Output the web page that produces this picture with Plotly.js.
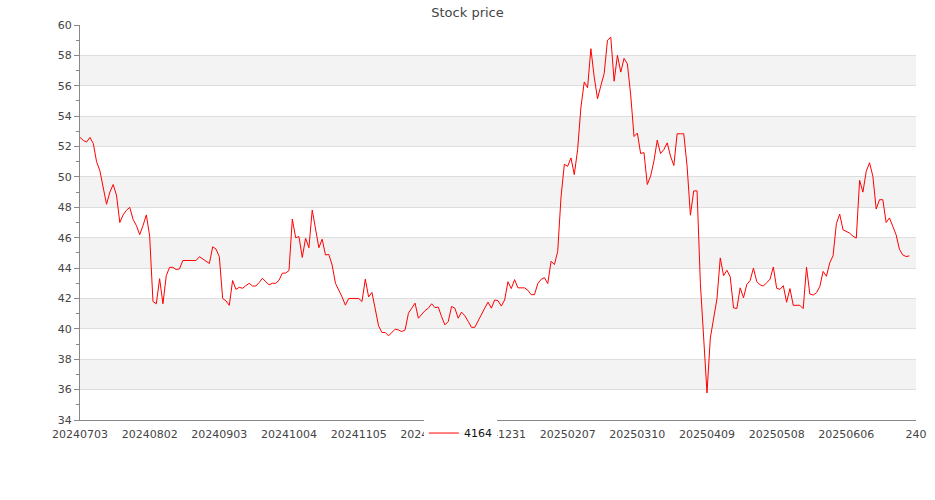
<!DOCTYPE html>
<html>
<head>
<meta charset="utf-8">
<script src="https://cdn.plot.ly/plotly-3.0.1.min.js"></script>
<style>
html, body { margin: 0; padding: 0; background: #ffffff; }
#chart { width: 935px; height: 500px; }
</style>
</head>
<body>
<div id="chart"></div>
<script>
// ---- data ----
const seriesName = "4164";
const prices = [
  52.6, 52.4, 52.3, 52.6, 52.2, 51.0, 50.4, 49.3, 48.2, 49.0,
  49.5, 48.8, 47.0, 47.5, 47.8, 48.0, 47.2, 46.8, 46.2, 46.8,
  47.5, 46.1, 41.8, 41.65, 43.3, 41.65, 43.5, 44.05, 44.05, 43.9,
  43.95, 44.5, 44.5, 44.5, 44.5, 44.5, 44.75, 44.6, 44.4, 44.3,
  45.4, 45.25, 44.75, 42.0, 41.84, 41.55, 43.18, 42.6, 42.73, 42.67,
  42.84, 43.0, 42.82, 42.82, 43.05, 43.33, 43.1, 42.9, 43.0, 43.0,
  43.2, 43.67, 43.67, 43.84, 47.23, 46.0, 46.07, 44.7, 45.96, 45.34,
  47.82, 46.6, 45.34, 45.9, 44.86, 44.9, 44.2, 43.0, 42.6, 42.1,
  41.56, 42.0, 42.0, 42.0, 42.0, 41.8, 43.27, 42.1, 42.4, 41.3,
  40.2, 39.76, 39.76, 39.54, 39.78, 39.98, 39.93, 39.82, 39.93, 41.03,
  41.36, 41.69, 40.7, 40.99, 41.2, 41.36, 41.65, 41.4, 41.43, 40.8,
  40.26, 40.48, 41.47, 41.36, 40.7, 41.1, 40.86, 40.5, 40.1, 40.1,
  40.55, 40.92, 41.36, 41.76, 41.36, 41.9, 41.85, 41.5, 41.9, 43.1,
  42.65, 43.24, 42.7, 42.7, 42.7, 42.54, 42.25, 42.25, 42.98, 43.26,
  43.37, 42.98, 44.45, 44.23, 45.1, 48.68, 50.83, 50.7, 51.25, 50.15,
  51.8, 54.6, 56.25, 55.87, 58.44, 56.57, 55.15, 56.0, 56.8, 59.0,
  59.2, 56.3, 58.0, 56.9, 57.8, 57.44, 55.4, 52.66, 52.89, 51.54,
  51.6, 49.5, 50.05, 51.04, 52.42, 51.54, 51.8, 52.24, 51.37, 50.75,
  52.84, 52.84, 52.84, 50.7, 47.48, 49.08, 49.08, 43.0, 39.5, 35.78,
  39.4, 40.83, 41.97, 44.67, 43.5, 43.86, 43.42, 41.38, 41.34, 42.7,
  42.04, 42.92, 43.18, 44.0, 43.11, 42.9, 42.82, 43.04, 43.27, 44.07,
  42.67, 42.6, 42.84, 41.75, 42.65, 41.55, 41.55, 41.55, 41.33, 44.06,
  42.29, 42.22, 42.38, 42.78, 43.78, 43.46, 44.35, 44.81, 46.92, 47.55,
  46.52, 46.41, 46.3, 46.1, 45.97, 49.78, 49.0, 50.37, 50.93, 50.04,
  47.89, 48.5, 48.5, 47.0, 47.3, 46.75, 46.19, 45.24, 44.87, 44.76,
  44.8
];
const tickIndex = [0, 21, 42, 63, 84, 105, 126, 147, 168, 189, 210, 231, 252];
const tickLabels = ["20240703", "20240802", "20240903", "20241004", "20241105", "20241204",
                    "20241231", "20250207", "20250310", "20250409", "20250508", "20250606", "240"];
const yRange = [34, 60];

// ---- build chart ----
const xIdx = prices.map((_, i) => i);

const bands = [];
for (let v = yRange[0] + 2; v < yRange[1]; v += 4) {
  bands.push({
    type: 'rect', xref: 'paper', yref: 'y', x0: 0, x1: 1, y0: v, y1: v + 2,
    fillcolor: '#f3f3f3', line: { width: 0 }, layer: 'below'
  });
}

const trace = {
  x: xIdx, y: prices, type: 'scatter', mode: 'lines', name: seriesName,
  line: { color: '#ff0000', width: 1 }, hoverinfo: 'y'
};

const layout = {
  width: 935, height: 500,
  margin: { l: 80, r: 19, t: 25, b: 80, pad: 0 },
  paper_bgcolor: '#ffffff', plot_bgcolor: '#ffffff',
  font: { family: 'DejaVu Sans, sans-serif', size: 11, color: '#444' },
  title: {
    text: 'Stock price', font: { size: 13, color: '#444', family: 'DejaVu Sans, sans-serif' },
    x: 0.5, xref: 'container', xanchor: 'center', y: 0.976, yref: 'container', yanchor: 'middle'
  },
  showlegend: true,
  legend: {
    orientation: 'h', x: 0.455, xanchor: 'center', y: -0.033, yanchor: 'middle',
    bgcolor: '#ffffff', font: { size: 11, color: '#111' }, itemwidth: 30
  },
  xaxis: {
    range: [0, 252], showgrid: false, zeroline: false,
    showline: true, linecolor: '#888', linewidth: 1,
    ticks: '', ticklabelstandoff: 4, tickmode: 'array', tickvals: tickIndex, ticktext: tickLabels,
    tickfont: { size: 11, color: '#444' }, fixedrange: true
  },
  yaxis: {
    range: yRange, dtick: 2, tick0: 34, showgrid: true, gridcolor: '#dedede', gridwidth: 1,
    zeroline: false, showline: true, linecolor: '#888', linewidth: 1,
    ticks: 'outside', ticklen: 5, tickcolor: '#888', tickwidth: 1,
    minor: { dtick: 1, ticks: 'outside', ticklen: 3, tickcolor: '#888', showgrid: false },
    tickfont: { size: 11, color: '#444' }, fixedrange: true
  },
  shapes: bands
};

Plotly.newPlot('chart', [trace], layout, { displayModeBar: false, staticPlot: true });
</script>
</body>
</html>
